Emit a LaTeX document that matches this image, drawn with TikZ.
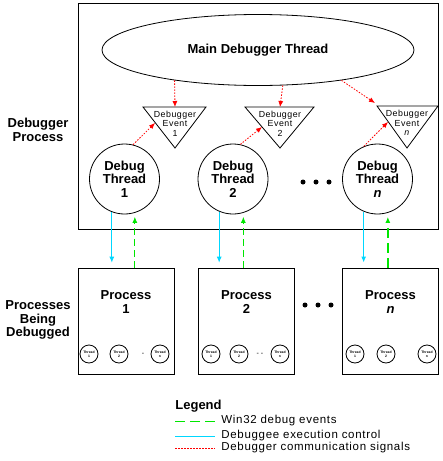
\documentclass[tikz,border=0pt]{standalone}
\usepackage{fontspec}
\setmainfont{Liberation Sans}
\newfontfamily\spacedfont[LetterSpace=6]{Liberation Sans}
\usetikzlibrary{shapes.geometric,arrows.meta}
\definecolor{sigred}{RGB}{255,0,0}
\definecolor{evgreen}{RGB}{0,230,0}
\definecolor{ctlcyan}{RGB}{0,215,255}
\tikzset{
	signal/.style = {sigred, dash pattern=on 1.5pt off 1.5pt, -{Latex[length=6pt,width=5pt]}},
	control/.style = {ctlcyan, -{Latex[length=6pt,width=5pt]}},
	dbgevent/.style = {evgreen, dash pattern=on 7pt off 4pt, -{Latex[length=6pt,width=5pt]}},
	bigtext/.style = {font=\bfseries\fontsize{13}{13.5}\selectfont, align=center},
	evtext/.style = {font=\spacedfont\fontsize{8.8}{9.5}\selectfont, align=center, inner sep=0pt},
	legtext/.style = {font=\spacedfont\fontsize{11.5}{12}\selectfont, anchor=west, inner sep=0pt},
	thread/.style = {circle, draw, minimum size=70pt, inner sep=0pt, bigtext},
	procbox/.style = {draw, minimum width=96pt, minimum height=106pt, inner sep=0pt},
	minithread/.style = {circle, draw, minimum size=18pt, inner sep=0pt, font=\bfseries\fontsize{3.4}{3.8}\selectfont, align=center}
}
\begin{document}
\begin{tikzpicture}[x=1pt, y=-1pt, line width=0.8pt]
	\useasboundingbox (0,0) rectangle (443,461);
	% debugger process
	\draw (78,3) rectangle (438,229);
	\node (dbglabel) at (38,130) [bigtext] {Debugger\\Process};
	\node (main) at (258,50) [ellipse, draw, minimum width=312pt, minimum height=71pt, bigtext] {Main Debugger Thread};
	% debugger events
	\draw (143,107) -- (206,107) -- (175,148) -- cycle;
	\node (ev1) at (175,123.5) [evtext] {Debugger\\Event\\1};
	\coordinate (ev1top) at (175,107);
	\coordinate (ev1in) at (155,123);
	\draw (245,107) -- (314,107) -- (280,148) -- cycle;
	\node (ev2) at (280,123.5) [evtext] {Debugger\\Event\\2};
	\coordinate (ev2top) at (280,107);
	\coordinate (ev2in) at (262,127);
	\draw (377,106) -- (438,106) -- (407,148) -- cycle;
	\node (evn) at (407,123) [evtext] {Debugger\\Event\\\textit{n}};
	\coordinate (evntop) at (375,103);
	\coordinate (evnin) at (388,122);
	% debug threads
	\node (dt1) at (124.5,179) [thread] {Debug\\Thread\\1};
	\node (dt2) at (233,179) [thread] {Debug\\Thread\\2};
	\node (dtn) at (377.5,179) [thread] {Debug\\Thread\\\textit{n}};
	\fill (303,182) circle (2.5pt);
	\fill (316,182) circle (2.5pt);
	\fill (329,182) circle (2.5pt);
	% signals
	\draw[signal] (main.200) -- (ev1top);
	\draw[signal] (main.305) -- (ev2top);
	\draw[signal] (main.340) -- (evntop);
	\draw[signal] (dt1.76) -- (ev1in);
	\draw[signal] (dt2.78) -- (ev2in);
	\draw[signal] (dtn.113) -- (evnin);
	% processes being debugged
	\node (pdlabel) at (38,320) [bigtext] {Processes\\Being\\Debugged};
	\node (p1) at (126,321) [procbox] {};
	\node (p1txt) at (126,302) [bigtext] {Process\\1};
	\node (p2) at (246.5,321) [procbox] {};
	\node (p2txt) at (246.5,302) [bigtext] {Process\\2};
	\node (pn) at (390.5,321) [procbox] {};
	\node (pntxt) at (390.5,302) [bigtext] {Process\\\textit{n}};
	\fill (305,305) circle (2.5pt);
	\fill (318,305) circle (2.5pt);
	\fill (331,305) circle (2.5pt);
	% threads inside the processes
	\node (t11) at (89,354) [minithread] {Thread\\1};
	\node (t12) at (119,354) [minithread] {Thread\\2};
	\node (t1n) at (160,354) [minithread] {Thread\\n};
	\node (t1dots) at (143,354) [font=\fontsize{7}{7}\selectfont] {-};
	\node (t21) at (211,354) [minithread] {Thread\\1};
	\node (t22) at (239,354) [minithread] {Thread\\2};
	\node (t2n) at (280,354) [minithread] {Thread\\n};
	\node (t2dots) at (260,354) [font=\fontsize{7}{7}\selectfont] {- -};
	\node (tn1) at (355,354) [minithread] {Thread\\1};
	\node (tn2) at (386,354) [minithread] {Thread\\2};
	\node (tnn) at (427,354) [minithread] {Thread\\n};
	% control and debug events
	\draw[control, shorten >=5pt] (dt1.249) -- (dt1.249 |- p1.north);
	\draw[dbgevent, shorten >=4pt] (dt1.287 |- p1.north) -- (dt1.287);
	\draw[control, shorten >=5pt] (dt2.247) -- (dt2.247 |- p2.north);
	\draw[dbgevent, shorten >=4pt] (dt2.287 |- p2.north) -- (dt2.287);
	\draw[control, line width=1.3pt, shorten >=5pt] (dtn.247) -- (dtn.247 |- pn.north);
	\draw[dbgevent, line width=1.3pt, dash pattern=on 10pt off 5pt, shorten >=4pt] (dtn.287 |- pn.north) -- (dtn.287);
	% legend
	\node (legend) at (175,406) [bigtext, anchor=west, inner sep=0pt] {Legend};
	\coordinate (lg1a) at (175,421);
	\coordinate (lg1b) at (215,421);
	\draw[evgreen, dash pattern=on 10pt off 5pt] (lg1a) -- (lg1b);
	\node (lg1) at (221,421) [legtext] {Win32 debug events};
	\coordinate (lg2a) at (175,436);
	\coordinate (lg2b) at (215,436);
	\draw[ctlcyan] (lg2a) -- (lg2b);
	\node (lg2) at (221,436) [legtext] {Debuggee execution control};
	\coordinate (lg3a) at (175,448);
	\coordinate (lg3b) at (215,448);
	\draw[sigred, dash pattern=on 1.5pt off 1.5pt] (lg3a) -- (lg3b);
	\node (lg3) at (221,448) [legtext] {Debugger communication signals};
\end{tikzpicture}
\end{document}
